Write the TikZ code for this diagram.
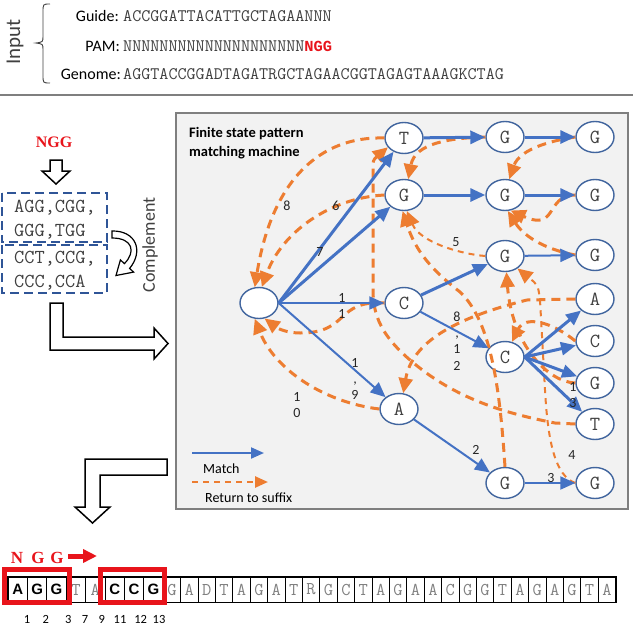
\documentclass[tikz,border=0pt]{standalone}
\usepackage{fontspec}
\setmainfont{Carlito}
\newfontfamily\mono{Liberation Mono}
\newfontfamily\serifb{Liberation Serif}
\newfontfamily\sansb{Liberation Sans}
\usetikzlibrary{arrows.meta,shapes.geometric}
\definecolor{mblue}{HTML}{4472C4}
\definecolor{morange}{HTML}{ED7D31}
\definecolor{dblue}{HTML}{2F5597}
\definecolor{nodeblue}{HTML}{41659E}
\definecolor{boxgray}{HTML}{F2F2F2}
\definecolor{boxline}{HTML}{7F7F7F}
\definecolor{txtgray}{HTML}{404040}
\definecolor{pred}{HTML}{E8141B}
\tikzset{
  st/.style={ellipse, draw=nodeblue, line width=1.4pt, fill=white, minimum width=38pt, minimum height=31pt, inner sep=0pt, font=\ttfamily\fontsize{20}{20}\selectfont, text=txtgray},
  mtch/.style={draw=mblue, line width=3pt, -{Triangle[length=15pt,width=13pt]}},
  mthin/.style={mtch, line width=2pt},
  ret/.style={draw=morange, line width=3pt, dash pattern=on 9pt off 6pt, -{Triangle[length=15pt,width=14pt]}},
  rthin/.style={ret, line width=2pt, dash pattern=on 6pt off 5pt},
  lab/.style={font=\fontsize{14}{14}\selectfont, text=black!85, inner sep=0pt},
  hollow/.style={draw=black, line width=1.5pt, fill=white, line join=miter},
  dbox/.style={draw=dblue, line width=1.5pt, dash pattern=on 9pt off 5pt},
  cellb/.style={draw=black, line width=1pt, minimum height=25pt, inner sep=0pt, font=\sansb\bfseries\fontsize{15}{15}\selectfont, text=black},
  celln/.style={draw=black, line width=1pt, minimum height=25pt, inner sep=0pt, font=\ttfamily\fontsize{18}{18}\selectfont, text=gray},
  num/.style={font=\fontsize{12.5}{12.5}\selectfont, inner sep=0pt},
  seqtxt/.style={anchor=west, inner sep=0pt, font=\ttfamily\fontsize{17.6}{18}\selectfont, text=txtgray},
  boxtxt/.style={anchor=west, inner sep=0pt, font=\ttfamily\fontsize{19.8}{20}\selectfont, text=txtgray},
}
\begin{document}
\begin{tikzpicture}[x=1pt,y=-1pt]
\useasboundingbox (0,0) rectangle (633,625);

% ---------------- top: input ----------------
\node[rotate=90, font=\fontsize{21}{21}\selectfont, text=txtgray] (inp) at (15,42) {Input};
\draw[line width=0.9pt, draw=txtgray] (50,4) .. controls (43,4) .. (43,12) -- (43,36) .. controls (43,42) .. (36,43) .. controls (43,44) .. (43,50) -- (43,75) .. controls (43,83) .. (50,83);
\node[anchor=east, inner sep=0pt, font=\fontsize{16}{16}\selectfont] (lg) at (119,16) {Guide:};
\node[anchor=east, inner sep=0pt, font=\fontsize{16}{16}\selectfont] (lp) at (120,46) {PAM:};
\node[anchor=east, inner sep=0pt, font=\fontsize{16}{16}\selectfont] (lgn) at (121,74) {Genome:};
\node[seqtxt] (sg) at (123,16) {ACCGGATTACATTGCTAGAANNN};
\node[seqtxt] (sp) at (123,46) {NNNNNNNNNNNNNNNNNNNN\textcolor{pred}{\mono\bfseries\fontsize{15.4}{16}\selectfont NGG}};
\node[seqtxt] (sgn) at (123,74) {AGGTACCGGADTAGATRGCTAGAACGGTAGAGTAAAGKCTAG};
\draw[boxline, line width=2pt] (0,95) -- (633,95);

% ---------------- left column ----------------
\node[font=\serifb\bfseries\fontsize{16}{16}\selectfont, text=pred] (ngg) at (54,142) {NGG};
\draw[hollow] (50,160) -- (62,160) -- (62,171) -- (70,171) -- (56,184) -- (42,171) -- (50,171) -- cycle;
\draw[dbox] (2,193) rectangle (107,242);
\draw[dbox] (2,245) rectangle (107,293);
\node[boxtxt] (t1) at (14,208) {AGG,CGG,};
\node[boxtxt] (t2) at (14,232) {GGG,TGG};
\node[boxtxt] (t3) at (14,259) {CCT,CCG,};
\node[boxtxt] (t4) at (14,283) {CCC,CCA};
\draw[draw=black, line width=1.2pt, fill=white] (112,231) .. controls (136,230.5) and (144,251) .. (129.6,268.4) -- (133.6,272.1) -- (116,275.5) -- (120.4,259.9) -- (124.4,263.6) .. controls (136,252) and (133,238) .. (112,238) -- cycle;
\node[rotate=90, font=\fontsize{18}{18}\selectfont, text=txtgray] (comp) at (150,245) {Complement};
\draw[hollow] (50,303) -- (63,303) -- (63,337) -- (154,337) -- (154,328) -- (168,343.5) -- (154,359) -- (154,350) -- (50,350) -- cycle;

% ---------------- machine box ----------------
\draw[draw=boxline, line width=1.5pt, fill=boxgray] (176,113) rectangle (628,509);
\node[anchor=north west, align=left, inner sep=0pt, font=\bfseries\fontsize{14.5}{19}\selectfont] (title) at (189,127) {Finite state pattern\\matching machine};

\node[st] (S) at (259,303) {};
\node[st] (T) at (404,138) {T};
\node[st] (G1) at (404,195) {G};
\node[st] (C1) at (404,303) {C};
\node[st] (A1) at (399,409) {A};
\node[st] (G2a) at (505,137) {G};
\node[st] (G2b) at (505,195) {G};
\node[st] (G2c) at (505,256) {G};
\node[st] (C2) at (505,357) {C};
\node[st] (G2d) at (505,483) {G};
\node[st] (G3a) at (595,137) {G};
\node[st] (G3b) at (595,195) {G};
\node[st] (G3c) at (595,255) {G};
\node[st] (A3) at (595,299) {A};
\node[st] (C3) at (595,341) {C};
\node[st] (G3d) at (595,383) {G};
\node[st] (T3) at (595,424) {T};
\node[st] (G3e) at (595,483) {G};

% return to suffix (orange dashed)
\draw[ret] (T.west) .. controls (320,136) and (272,180) .. (S.105);
\draw[ret] (G1.west) .. controls (330,198) and (282,232) .. (S.80);
\draw[ret] (C1.west) .. controls (335,300) and (350,333) .. (300,333) .. controls (290,333) and (280,330) .. (S.-70);
\draw[ret] (A1.west) .. controls (322,402) and (274,368) .. (S.-105);
\draw[ret] (G2a.west) .. controls (450,138) and (415,143) .. (G1.75);
\draw[ret] (G3a.west) .. controls (555,140) and (520,148) .. (G2b.75);
\draw[ret] (G3b.west) .. controls (545,195) and (558,232) .. (G2b.-70);
\draw[ret] (G3c.west) .. controls (548,250) and (525,238) .. (G2b.-80);
\draw[rthin] (G2c.west) .. controls (460,254) and (420,242) .. (G1.-80);
\draw[ret] (G2d.north) .. controls (500,392) and (492,322) .. (460,292) .. controls (432,270) and (416,252) .. (G1.-95);
\draw[ret] (T3.west) -- (555,423) .. controls (520,416) and (470,405) .. (425,372) .. controls (385,342) and (373,320) .. (373,290) -- (373,172) .. controls (373,160) .. (T.210);
\draw[ret] (A3.west) -- (527,300) .. controls (455,318) and (412,342) .. (A1.75);
\draw[ret] (G3d.west) .. controls (548,382) and (512,345) .. (G2c.-85);
\draw[ret] (C3.west) .. controls (552,322) and (525,315) .. (C2.65);
\draw[rthin] (G3e.west) .. controls (556,476) and (548,445) .. (545,390) -- (540,300) .. controls (538,285) .. (G2c.-45);

% matches (blue)
\draw[mtch] (S.east) -- (T);
\draw[mtch] (S.east) -- (G1);
\draw[mthin] (S.east) -- (C1);
\draw[mthin] (S.east) -- (A1);
\draw[mtch] (T) -- (G2a);
\draw[mtch] (G2a) -- (G3a);
\draw[mtch] (G1) -- (G2b);
\draw[mtch] (G2b) -- (G3b);
\draw[mtch] (C1) -- (G2c);
\draw[mthin] (G2c) -- (G3c);
\draw[mthin] (C1) -- (C2);
\draw[mtch] (C2.east) -- (A3);
\draw[mtch] (C2.east) -- (C3);
\draw[mtch] (C2.east) -- (G3d);
\draw[mtch] (C2.east) -- (T3);
\draw[mthin] (A1) -- (G2d);
\draw[mthin] (G2d) -- (G3e);

% labels
\node[lab] (e8) at (287,206) {8};
\node[lab] (e6) at (336,206) {6};
\node[lab] (e7) at (320,252) {7};
\node[lab, align=center, font=\fontsize{14}{16}\selectfont] (e11) at (342,306) {1\\1};
\node[lab, align=center, font=\fontsize{14}{16}\selectfont] (e19) at (355,379) {1\\,\\9};
\node[lab, align=center, font=\fontsize{14}{16}\selectfont] (e10) at (297,405) {1\\0};
\node[lab] (e5) at (456,242) {5};
\node[lab, align=center, font=\fontsize{14}{16.3}\selectfont] (e812) at (457,341) {8\\,\\1\\2};
\node[lab, align=center, font=\fontsize{14}{16}\selectfont] (e13) at (573,395) {1\\3};
\node[lab] (e2) at (476,450) {2};
\node[lab] (e3) at (551,478) {3};
\node[lab] (e4) at (572,455) {4};

% legend
\coordinate (lm1) at (192,453);
\coordinate (lm2) at (264,453);
\draw[mthin, -{Triangle[length=13pt,width=11pt]}] (lm1) -- (lm2);
\node[anchor=west, inner sep=0pt, font=\fontsize{14}{14}\selectfont] (lmt) at (203,469) {Match};
\coordinate (lr1) at (192,482);
\coordinate (lr2) at (268,482);
\draw[rthin, line width=2.5pt, -{Triangle[length=13pt,width=11pt]}] (lr1) -- (lr2);
\node[anchor=west, inner sep=0pt, font=\fontsize{14}{14}\selectfont] (lrt) at (205,498) {Return to suffix};

% second L arrow
\draw[hollow] (167,459) -- (167,475) -- (100,475) -- (100,507) -- (110,507) -- (92.5,523) -- (75,507) -- (85,507) -- (85,459) -- cycle;

% ---------------- bottom sequence ----------------
\node[font=\serifb\bfseries\fontsize{17}{17}\selectfont, text=pred] (n1) at (17,558) {N};
\node[font=\serifb\bfseries\fontsize{17}{17}\selectfont, text=pred] (n2) at (38,558) {G};
\node[font=\serifb\bfseries\fontsize{17}{17}\selectfont, text=pred] (n3) at (57,558) {G};
\coordinate (ra1) at (68,556);
\coordinate (ra2) at (97,556);
\draw[pred, line width=5pt, -{Triangle[length=14pt,width=13pt]}] (ra1) -- (ra2);

\foreach \c/\s [count=\i] in {A/b,G/b,G/b,T/n,A/n,C/b,C/b,G/b,G/n,A/n,D/n,T/n,A/n,G/n,A/n,T/n,R/n,G/n,C/n,T/n,A/n,G/n,A/n,A/n,C/n,G/n,G/n,T/n,A/n,G/n,A/n,G/n,T/n,A/n} {
  \pgfmathsetmacro\xl{\i<=8 ? 8+(\i-1)*19.4 : 163.2+(\i-9)*17.4}
  \pgfmathsetmacro\w{\i<=8 ? 19.4 : 17.4}
  \node[cell\s, minimum width=\w pt] (c\i) at (\xl+\w/2,589.5) {\c};
}
\draw[line width=1.8pt] (c1.north west) rectangle (c34.south east);
\draw[pred, line width=4.8pt] (4.5,569.5) rectangle (69.5,602.5);
\draw[pred, line width=4.8pt] (100.5,569.5) rectangle (164.5,602.5);

\node[num] (k1) at (27,619) {1};
\node[num] (k2) at (45.7,619) {2};
\node[num] (k3) at (68.3,619) {3};
\node[num] (k7) at (85,619) {7};
\node[num] (k9) at (101.7,619) {9};
\node[num] (k11) at (120,619) {11};
\node[num] (k12) at (140.7,619) {12};
\node[num] (k13) at (159,619) {13};
\end{tikzpicture}
\end{document}
